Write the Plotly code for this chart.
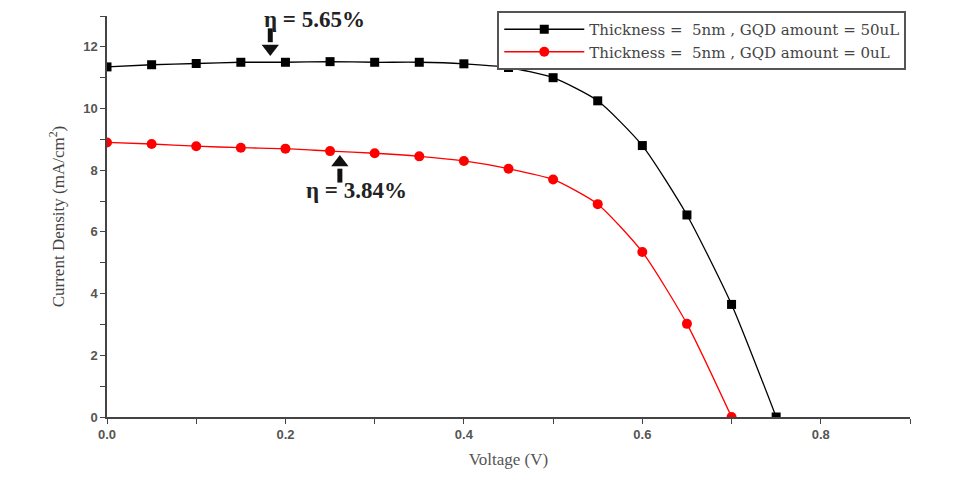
import plotly.graph_objects as go

voltage_black = [0.0, 0.05, 0.10, 0.15, 0.20, 0.25, 0.30, 0.35, 0.40, 0.45, 0.50, 0.55, 0.60, 0.65, 0.70, 0.75]
current_black = [11.35, 11.42, 11.46, 11.50, 11.50, 11.52, 11.50, 11.50, 11.45, 11.33, 11.00, 10.25, 8.80, 6.55, 3.65, 0.0]
voltage_red = [0.0, 0.05, 0.10, 0.15, 0.20, 0.25, 0.30, 0.35, 0.40, 0.45, 0.50, 0.55, 0.60, 0.65, 0.70]
current_red = [8.90, 8.85, 8.78, 8.73, 8.70, 8.62, 8.55, 8.45, 8.30, 8.05, 7.70, 6.90, 5.35, 3.02, 0.0]
series_names = ["Thickness =  5nm , GQD amount = 50uL", "Thickness =  5nm , GQD amount = 0uL"]
x_tick_vals = [0.0, 0.2, 0.4, 0.6, 0.8]
x_tick_text = ["0.0", "0.2", "0.4", "0.6", "0.8"]
y_tick_vals = [0, 2, 4, 6, 8, 10, 12]
efficiency_labels = ["η = 5.65%", "η = 3.84%"]
label_pos = [(0.232, 12.9), (0.28, 7.35)]
arrow_x = [0.183, 0.261]
arrow_shaft = [(12.6, 12.15), (7.6, 8.05)]
arrow_tip = [11.95, 8.25]

fig = go.Figure()
fig.add_trace(go.Scatter(x=voltage_black, y=current_black, mode="lines+markers",
                         name=series_names[0], line=dict(color="black", width=1.3, shape="spline", smoothing=0.6),
                         marker=dict(symbol="square", size=9, color="black")))
fig.add_trace(go.Scatter(x=voltage_red, y=current_red, mode="lines+markers",
                         name=series_names[1], line=dict(color="red", width=1.3, shape="spline", smoothing=0.6),
                         marker=dict(symbol="circle", size=10, color="red")))

serif = "Liberation Serif, Times New Roman, serif"

# arrows: thick shaft + triangle head
for ax_, (y0, y1), tip, sym in zip(arrow_x, arrow_shaft, arrow_tip, ["triangle-down", "triangle-up"]):
    fig.add_trace(go.Scatter(x=[ax_, ax_], y=[y0, y1], mode="lines", showlegend=False, hoverinfo="skip",
                             line=dict(color="#111", width=5)))
    fig.add_trace(go.Scatter(x=[ax_], y=[tip], mode="markers", showlegend=False, hoverinfo="skip",
                             marker=dict(symbol=sym, size=15, color="#111")))

for txt, (lx, ly) in zip(efficiency_labels, label_pos):
    fig.add_annotation(x=lx, y=ly, text="<b>" + txt + "</b>", showarrow=False,
                       font=dict(family=serif, size=23, color="#222"))

fig.update_layout(
    width=975, height=480,
    margin=dict(l=107, r=65, t=15, b=63),
    paper_bgcolor="white", plot_bgcolor="white",
    showlegend=True,
    legend=dict(x=0.486, y=1.01, xanchor="left", yanchor="top",
                bordercolor="#555", borderwidth=2, bgcolor="white",
                font=dict(family="DejaVu Serif, serif", size=15, color="#444"),
                tracegroupgap=0, itemwidth=80),
    xaxis=dict(range=[0, 0.9], tickvals=x_tick_vals, ticktext=x_tick_text,
               ticks="outside", ticklen=5, tickcolor="#444", showgrid=False, zeroline=False,
               showline=True, linecolor="#444", linewidth=1.5,
               minor=dict(dtick=0.1, tick0=0, ticks="outside", ticklen=5, tickcolor="#444", showgrid=False),
               tickfont=dict(family="Liberation Sans, Arial, sans-serif", size=13, color="#555", weight="bold"),
               title=dict(text="Voltage (V)", font=dict(family=serif, size=17, color="#555"), standoff=12)),
    yaxis=dict(range=[0, 13], tickvals=y_tick_vals,
               ticks="outside", ticklen=5, tickcolor="#444", showgrid=False, zeroline=False,
               showline=True, linecolor="#444", linewidth=1.5,
               minor=dict(dtick=1, tick0=0, ticks="outside", ticklen=5, tickcolor="#444", showgrid=False),
               tickfont=dict(family="Liberation Sans, Arial, sans-serif", size=13, color="#555", weight="bold"),
               title=dict(text="Current Density (mA/cm<sup>2</sup>)", font=dict(family=serif, size=17, color="#444"), standoff=14)),
)

fig.write_html("out.html")
